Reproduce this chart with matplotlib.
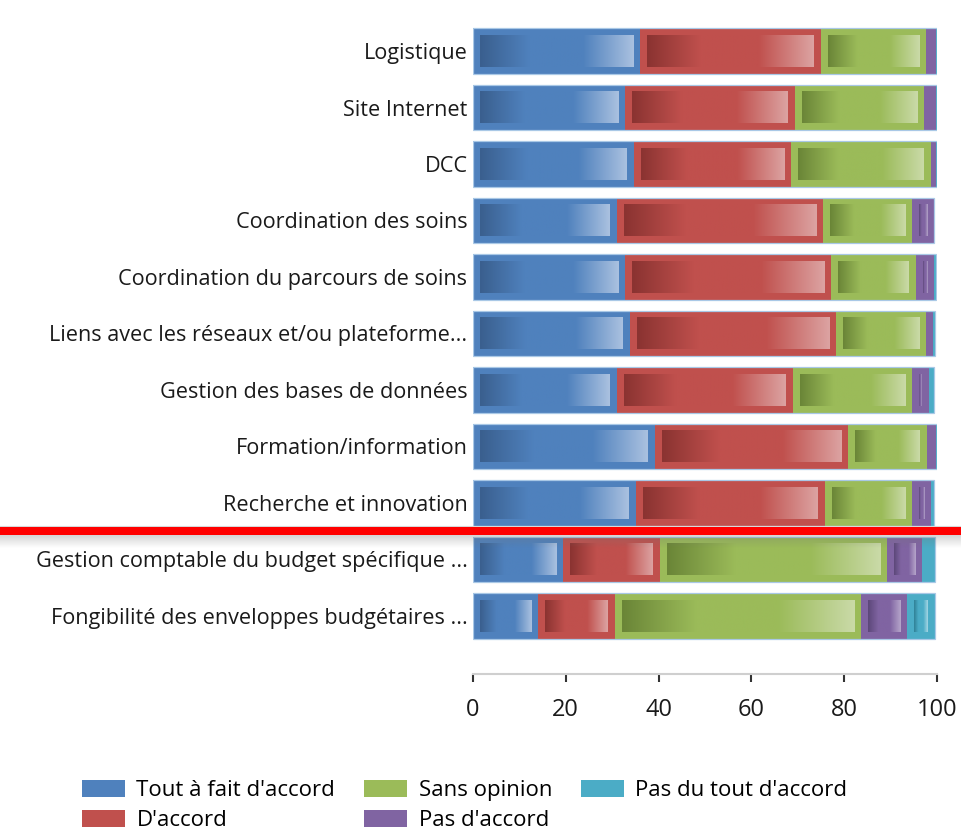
import numpy as np
import matplotlib
matplotlib.use("Agg")
import matplotlib.pyplot as plt
from matplotlib.colors import LinearSegmentedColormap
from matplotlib.patches import Patch, Rectangle

categories = [
    "Logistique",
    "Site Internet",
    "DCC",
    "Coordination des soins",
    "Coordination du parcours de soins",
    "Liens avec les réseaux et/ou plateforme...",
    "Gestion des bases de données",
    "Formation/information",
    "Recherche et innovation",
    "Gestion comptable du budget spécifique ...",
    "Fongibilité des enveloppes budgétaires ...",
]
series_names = ["Tout à fait d'accord", "D'accord", "Sans opinion", "Pas d'accord", "Pas du tout d'accord"]
tout_a_fait = [36.0, 32.8, 34.6, 31.0, 32.8, 33.8, 31.0, 39.2, 35.1, 19.5, 14.1]
d_accord    = [38.9, 36.6, 33.9, 44.4, 44.4, 44.4, 37.9, 41.7, 40.7, 20.7, 16.4]
sans_op     = [22.7, 27.9, 30.1, 19.2, 18.3, 19.5, 25.7, 16.9, 18.8, 49.0, 53.1]
pas_accord  = [2.2, 2.5, 1.2, 4.8, 3.9, 1.5, 3.6, 2.0, 4.1, 7.6, 10.0]
pas_du_tout = [0.2, 0.2, 0.2, 0.0, 0.4, 0.4, 1.2, 0.2, 0.7, 2.8, 6.0]
xticks = [0, 20, 40, 60, 80, 100]

series = [tout_a_fait, d_accord, sans_op, pas_accord, pas_du_tout]
base_colors = ["#4F81BD", "#C0504D", "#9BBB59", "#8064A2", "#4BACC6"]
dark_colors = ["#3A5F8E", "#8A3331", "#6A8537", "#5C4779", "#2F8096"]
light_colors = ["#AAC1E0", "#DCA3A2", "#CADAA8", "#B5A5CA", "#A6D6E4"]

FONT = ["Open Sans", "DejaVu Sans"]
plt.rcParams["font.family"] = FONT

W, H = 961, 833
fig = plt.figure(figsize=(W / 100, H / 100), dpi=100)

# axes geometry in pixels
x0_px, x1_px = 473, 937
first_center_px, step_px = 51, 56.5
bottom_px = 674
ylim_top = -0.5
ylim_bot = (bottom_px - first_center_px) / step_px
top_px = first_center_px + ylim_top * step_px
ax = fig.add_axes([x0_px / W, 1 - bottom_px / H, (x1_px - x0_px) / W, (bottom_px - top_px) / H])
ax.set_xlim(0, 100)
ax.set_ylim(ylim_bot, ylim_top)

bar_h = 0.8
ypos = np.arange(len(categories))
px_per_x = (x1_px - x0_px) / 100.0
inset_x = 7 / px_per_x
inset_y = 7 / step_px

grad = np.linspace(0, 1, 256).reshape(1, -1)
lefts = np.zeros(len(categories))
for s, vals in enumerate(series):
    vals = np.array(vals)
    ax.barh(ypos, vals, left=lefts, height=bar_h, color=base_colors[s], edgecolor="none", zorder=2)
    cmap = LinearSegmentedColormap.from_list(
        "g%d" % s,
        [(0, dark_colors[s]), (0.32, base_colors[s]), (0.67, base_colors[s]), (1.0, light_colors[s])])
    for i, (l, w) in enumerate(zip(lefts, vals)):
        if w * px_per_x > 2 * 7 + 2:
            ax.imshow(grad, cmap=cmap, aspect="auto", interpolation="bilinear",
                      extent=(l + inset_x, l + w - inset_x, i + bar_h / 2 - inset_y, i - bar_h / 2 + inset_y),
                      zorder=3)
    lefts = lefts + vals

for i, tot in enumerate(lefts):
    ax.add_patch(Rectangle((0, i - bar_h / 2), tot, bar_h, fill=False, edgecolor="#A9C8E6",
                           linewidth=0.9, zorder=4))

ax.set_xlim(0, 100)
ax.set_ylim(ylim_bot, ylim_top)
ax.set_yticks(ypos)
ax.set_yticklabels(categories, fontsize=15.6, color="#1a1a1a")
ax.tick_params(axis="y", length=0, pad=4)
ax.set_xticks(xticks)
ax.set_xticklabels([str(t) for t in xticks], fontsize=17, color="#1a1a1a")
ax.tick_params(axis="x", direction="out", length=6, width=1.5, color="#333333", pad=11)
for sp in ["top", "right", "left"]:
    ax.spines[sp].set_visible(False)
ax.spines["bottom"].set_color("#CFCFCF")
ax.spines["bottom"].set_linewidth(1.5)
ax.set_facecolor("none")

# overlay red line with shadow
ov = fig.add_axes([0, 0, 1, 1], zorder=10)
ov.set_xlim(0, W)
ov.set_ylim(H, 0)
ov.axis("off")
shadow = np.linspace(0.35, 0.0, 64).reshape(-1, 1)
ov.imshow(np.ones((64, 1, 3)) * 0.45, alpha=shadow, aspect="auto", extent=(0, W, 548, 533), zorder=1)
ov.plot([0, W], [526, 526], color="#D8D8D8", lw=0.8, zorder=2)
ov.add_patch(Rectangle((0, 527), W, 8, color="#FF0000", zorder=3, linewidth=0))
ov.set_xlim(0, W)
ov.set_ylim(H, 0)

handles = [Patch(facecolor=c, edgecolor="none") for c in base_colors]
fig.legend(handles, series_names, loc="upper left", bbox_to_anchor=(82 / W, 1 - 780 / H),
           ncol=3, frameon=False, fontsize=16, handlelength=1.95, handleheight=0.8,
           handletextpad=0.5, columnspacing=1.3, labelspacing=0.38, borderpad=0, borderaxespad=0)

fig.savefig("out.png", dpi=100)
